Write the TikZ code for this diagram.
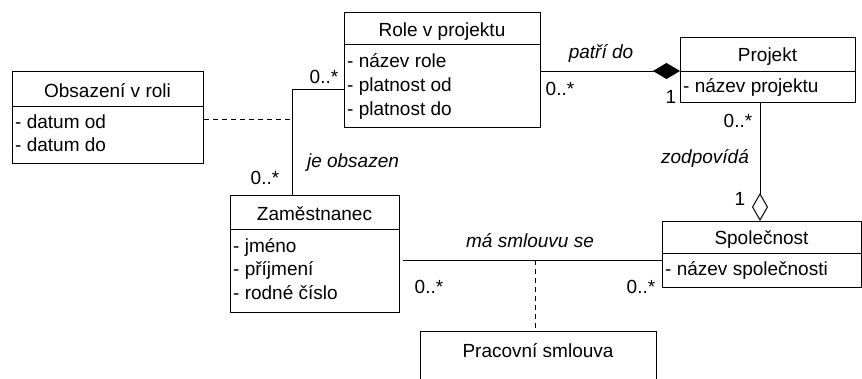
\documentclass[tikz,border=0pt]{standalone}
\usepackage{fontspec}
\setmainfont{Liberation Sans}
\usetikzlibrary{arrows.meta}
\begin{document}
\begin{tikzpicture}[x=1pt,y=-1pt,
  every node/.style={font=\fontsize{19}{23}\selectfont, inner sep=0pt},
  box/.style={draw, line width=1pt, anchor=north west, fill=white},
  title/.style={anchor=base},
  attr/.style={anchor=base west},
  lab/.style={anchor=base},
  rolelab/.style={anchor=base, font=\fontsize{19}{23}\selectfont\itshape},
  conn/.style={line width=1pt},
  dconn/.style={line width=1pt, dash pattern=on 5pt off 4pt}
]
\useasboundingbox (0,0) rectangle (862,378);
\fill[white] (0,0) rectangle (862,378);
\clip (0,0) rectangle (862,378);

% boxes
\node[box, minimum width=196pt, minimum height=115pt] (role) at (344,12) {};
\node[box, minimum width=175pt, minimum height=65pt] (proj) at (680,37) {};
\node[box, minimum width=191pt, minimum height=92pt] (obs) at (12,71) {};
\node[box, minimum width=169pt, minimum height=117pt] (zam) at (230,195) {};
\node[box, minimum width=199pt, minimum height=66pt] (spol) at (662,221) {};
\node[box, minimum width=236pt, minimum height=70pt] (prac) at (420,331) {};

% dividers
\draw[conn] ([yshift=-32pt]role.north west) -- ([yshift=-32pt]role.north east);
\draw[conn] ([yshift=-34pt]proj.north west) -- ([yshift=-34pt]proj.north east);
\draw[conn] ([yshift=-35pt]obs.north west) -- ([yshift=-35pt]obs.north east);
\draw[conn] ([yshift=-34pt]zam.north west) -- ([yshift=-34pt]zam.north east);
\draw[conn] ([yshift=-32pt]spol.north west) -- ([yshift=-32pt]spol.north east);

% titles
\node[title] (roleT) at (442,36) {Role v projektu};
\node[title] (projT) at (767.5,61) {Projekt};
\node[title] (obsT) at (107.5,97) {Obsazení v roli};
\node[title] (zamT) at (314.5,220) {Zaměstnanec};
\node[title] (spolT) at (761.5,244) {Společnost};
\node[title] (pracT) at (538,357) {Pracovní smlouva};

% attributes
\node[attr] (roleA1) at (347,67) {- název role};
\node[attr] (roleA2) at (347,91) {- platnost od};
\node[attr] (roleA3) at (347,115) {- platnost do};
\node[attr] (projA1) at (683,92) {- název projektu};
\node[attr] (obsA1) at (15,128) {- datum od};
\node[attr] (obsA2) at (15,151) {- datum do};
\node[attr] (zamA1) at (233,252) {- jméno};
\node[attr] (zamA2) at (233,275) {- příjmení};
\node[attr] (zamA3) at (233,299) {- rodné číslo};
\node[attr] (spolA1) at (665,275) {- název společnosti};

% helper coordinates
\coordinate (h89) at (0,89);
\coordinate (h71) at (0,71);
\coordinate (h260) at (0,260);
\coordinate (h119) at (0,119);
\coordinate (joint) at (292,119);
\coordinate (mid) at (535,260);

% connectors
\draw[conn] (role.west |- h89) -| ([xshift=62pt]zam.north west);
\draw[dconn] (obs.east |- h119) -- (joint);
\draw[conn, -{Diamond[length=27pt,width=16pt]}] (role.east |- h71) -- (proj.west |- h71);
\draw[conn, -{Diamond[open,fill=white,length=28pt,width=16pt]}] ([xshift=80pt]proj.south west) -- ([xshift=98pt]spol.north west);
\draw[conn, shorten <=3pt] (zam.east |- h260) -- (spol.west |- h260);
\draw[dconn] (mid) -- (mid |- prac.north);

% labels
\node[rolelab] (l1) at (601,58) {patří do};
\node[lab] (l2) at (560,95) {0..*};
\node[lab] (l3) at (671,103) {1};
\node[lab] (l4) at (738,127) {0..*};
\node[rolelab] (l5) at (705,163) {zodpovídá};
\node[lab] (l6) at (740,205) {1};
\node[lab] (l7) at (324,83) {0..*};
\node[rolelab] (l8) at (353,167) {je obsazen};
\node[lab] (l9) at (265,184) {0..*};
\node[rolelab] (l10) at (530,247) {má smlouvu se};
\node[lab] (l11) at (429,293) {0..*};
\node[lab] (l12) at (641,293) {0..*};
\end{tikzpicture}
\end{document}
